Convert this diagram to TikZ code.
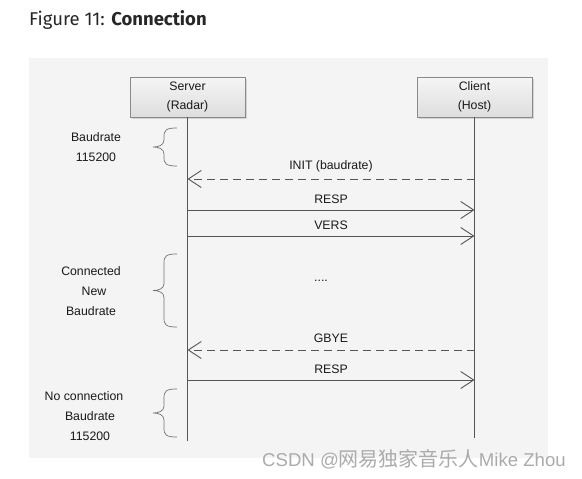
\documentclass[tikz,border=0pt]{standalone}
\usepackage{fontspec}
\setmainfont{Liberation Sans}
\newfontfamily\titlefont{Fira Sans}
\newfontfamily\cjkfont{Noto Sans CJK SC}
\newfontfamily\wmlatin{Liberation Sans}
\usetikzlibrary{arrows.meta,shadows}
\definecolor{bgc}{HTML}{F4F4F4}
\definecolor{linec}{HTML}{555555}
\definecolor{boxborder}{HTML}{8A8A8A}
% curly brace opening to the right: x of ends, y top, y bottom
\newcommand{\myBrace}[3]{%
  \pgfmathsetmacro{\bm}{(#2+#3)/2}%
  \draw[brc] (#1,#2) .. controls ({#1-11},#2) and ({#1-13},{#2+2}) .. ({#1-13},{#2+9})
    -- ({#1-13},{\bm-7}) .. controls ({#1-13},{\bm-2}) and ({#1-18},\bm) .. ({#1-24},\bm)
    .. controls ({#1-18},\bm) and ({#1-13},{\bm+2}) .. ({#1-13},{\bm+7})
    -- ({#1-13},{#3-9}) .. controls ({#1-13},{#3-2}) and ({#1-11},#3) .. (#1,#3);}
\begin{document}
\begin{tikzpicture}[x=1pt,y=-1pt,
  every node/.style={inner sep=0pt,font=\fontsize{12.3}{15}\selectfont,text=black!90},
  actor/.style={draw=boxborder,line width=0.8pt,top color=white!96!black,bottom color=black!13,
     minimum width=115pt,minimum height=40pt,align=center,
     drop shadow={shadow xshift=1.5pt,shadow yshift=-1.5pt,fill=black!25,opacity=0.6}},
  life/.style={linec,line width=0.9pt},
  msg/.style={linec,line width=0.9pt,-{Straight Barb[length=13pt,width=17pt,line width=0.9pt]}},
  reply/.style={msg,dash pattern=on 8pt off 5pt},
  lbl/.style={align=center},
  brc/.style={draw=black!55,line width=0.7pt}
]
\useasboundingbox (0,0) rectangle (582,479);
\fill[bgc] (29,58) rectangle (548,458);
\node[anchor=west,font=\titlefont\fontsize{18.5}{20}\selectfont,text=black!85] (title) at (29,20) {Figure 11: \textbf{Connection}};

\node[actor] (server) at (187.5,97) {Server\\[4pt](Radar)};
\node[actor] (client) at (474.5,97) {Client\\[4pt](Host)};
\coordinate (sEnd) at (187.5,441);
\coordinate (cEnd) at (474.5,438);
\draw[life] (server.south) -- (sEnd);
\draw[life] (client.south) -- (cEnd);

% message endpoints
\coordinate (s1) at (187.5,179); \coordinate (c1) at (474.5,179);
\coordinate (s2) at (187.5,210); \coordinate (c2) at (474.5,210);
\coordinate (s3) at (187.5,236); \coordinate (c3) at (474.5,236);
\coordinate (s4) at (187.5,350); \coordinate (c4) at (474.5,350);
\coordinate (s5) at (187.5,380); \coordinate (c5) at (474.5,380);

\draw[reply] (c1) -- node[above=7pt,lbl] (m1) {INIT (baudrate)} (s1);
\draw[msg] (s2) -- node[above=6pt,lbl] (m2) {RESP} (c2);
\draw[msg] (s3) -- node[above=6pt,lbl] (m3) {VERS} (c3);
\node (dots) at (321,281) {....};
\draw[reply] (c4) -- node[above=7pt,lbl] (m4) {GBYE} (s4);
\draw[msg] (s5) -- node[above=6pt,lbl] (m5) {RESP} (c5);

% braces
\myBrace{177}{128}{166}
\node[lbl] (t1) at (96,147) {Baudrate\\[5pt]115200};
\myBrace{177}{254}{327}
\node[lbl] (t2) at (91,291) {Connected\\[5pt]\hspace*{6pt}New\\[5pt]Baudrate};
\myBrace{177}{389}{437}
\node[lbl] (t3) at (84,416) {No connection\\[5pt]\hspace*{12pt}Baudrate\\[5pt]\hspace*{12pt}115200};

\node[anchor=west,text=black!33] (wm) at (262,459) {\wmlatin\fontsize{18.6}{20}\selectfont CSDN @\cjkfont\fontsize{20}{20}\selectfont 网易独家音乐人\wmlatin\fontsize{18.6}{20}\selectfont Mike Zhou};
\end{tikzpicture}
\end{document}
